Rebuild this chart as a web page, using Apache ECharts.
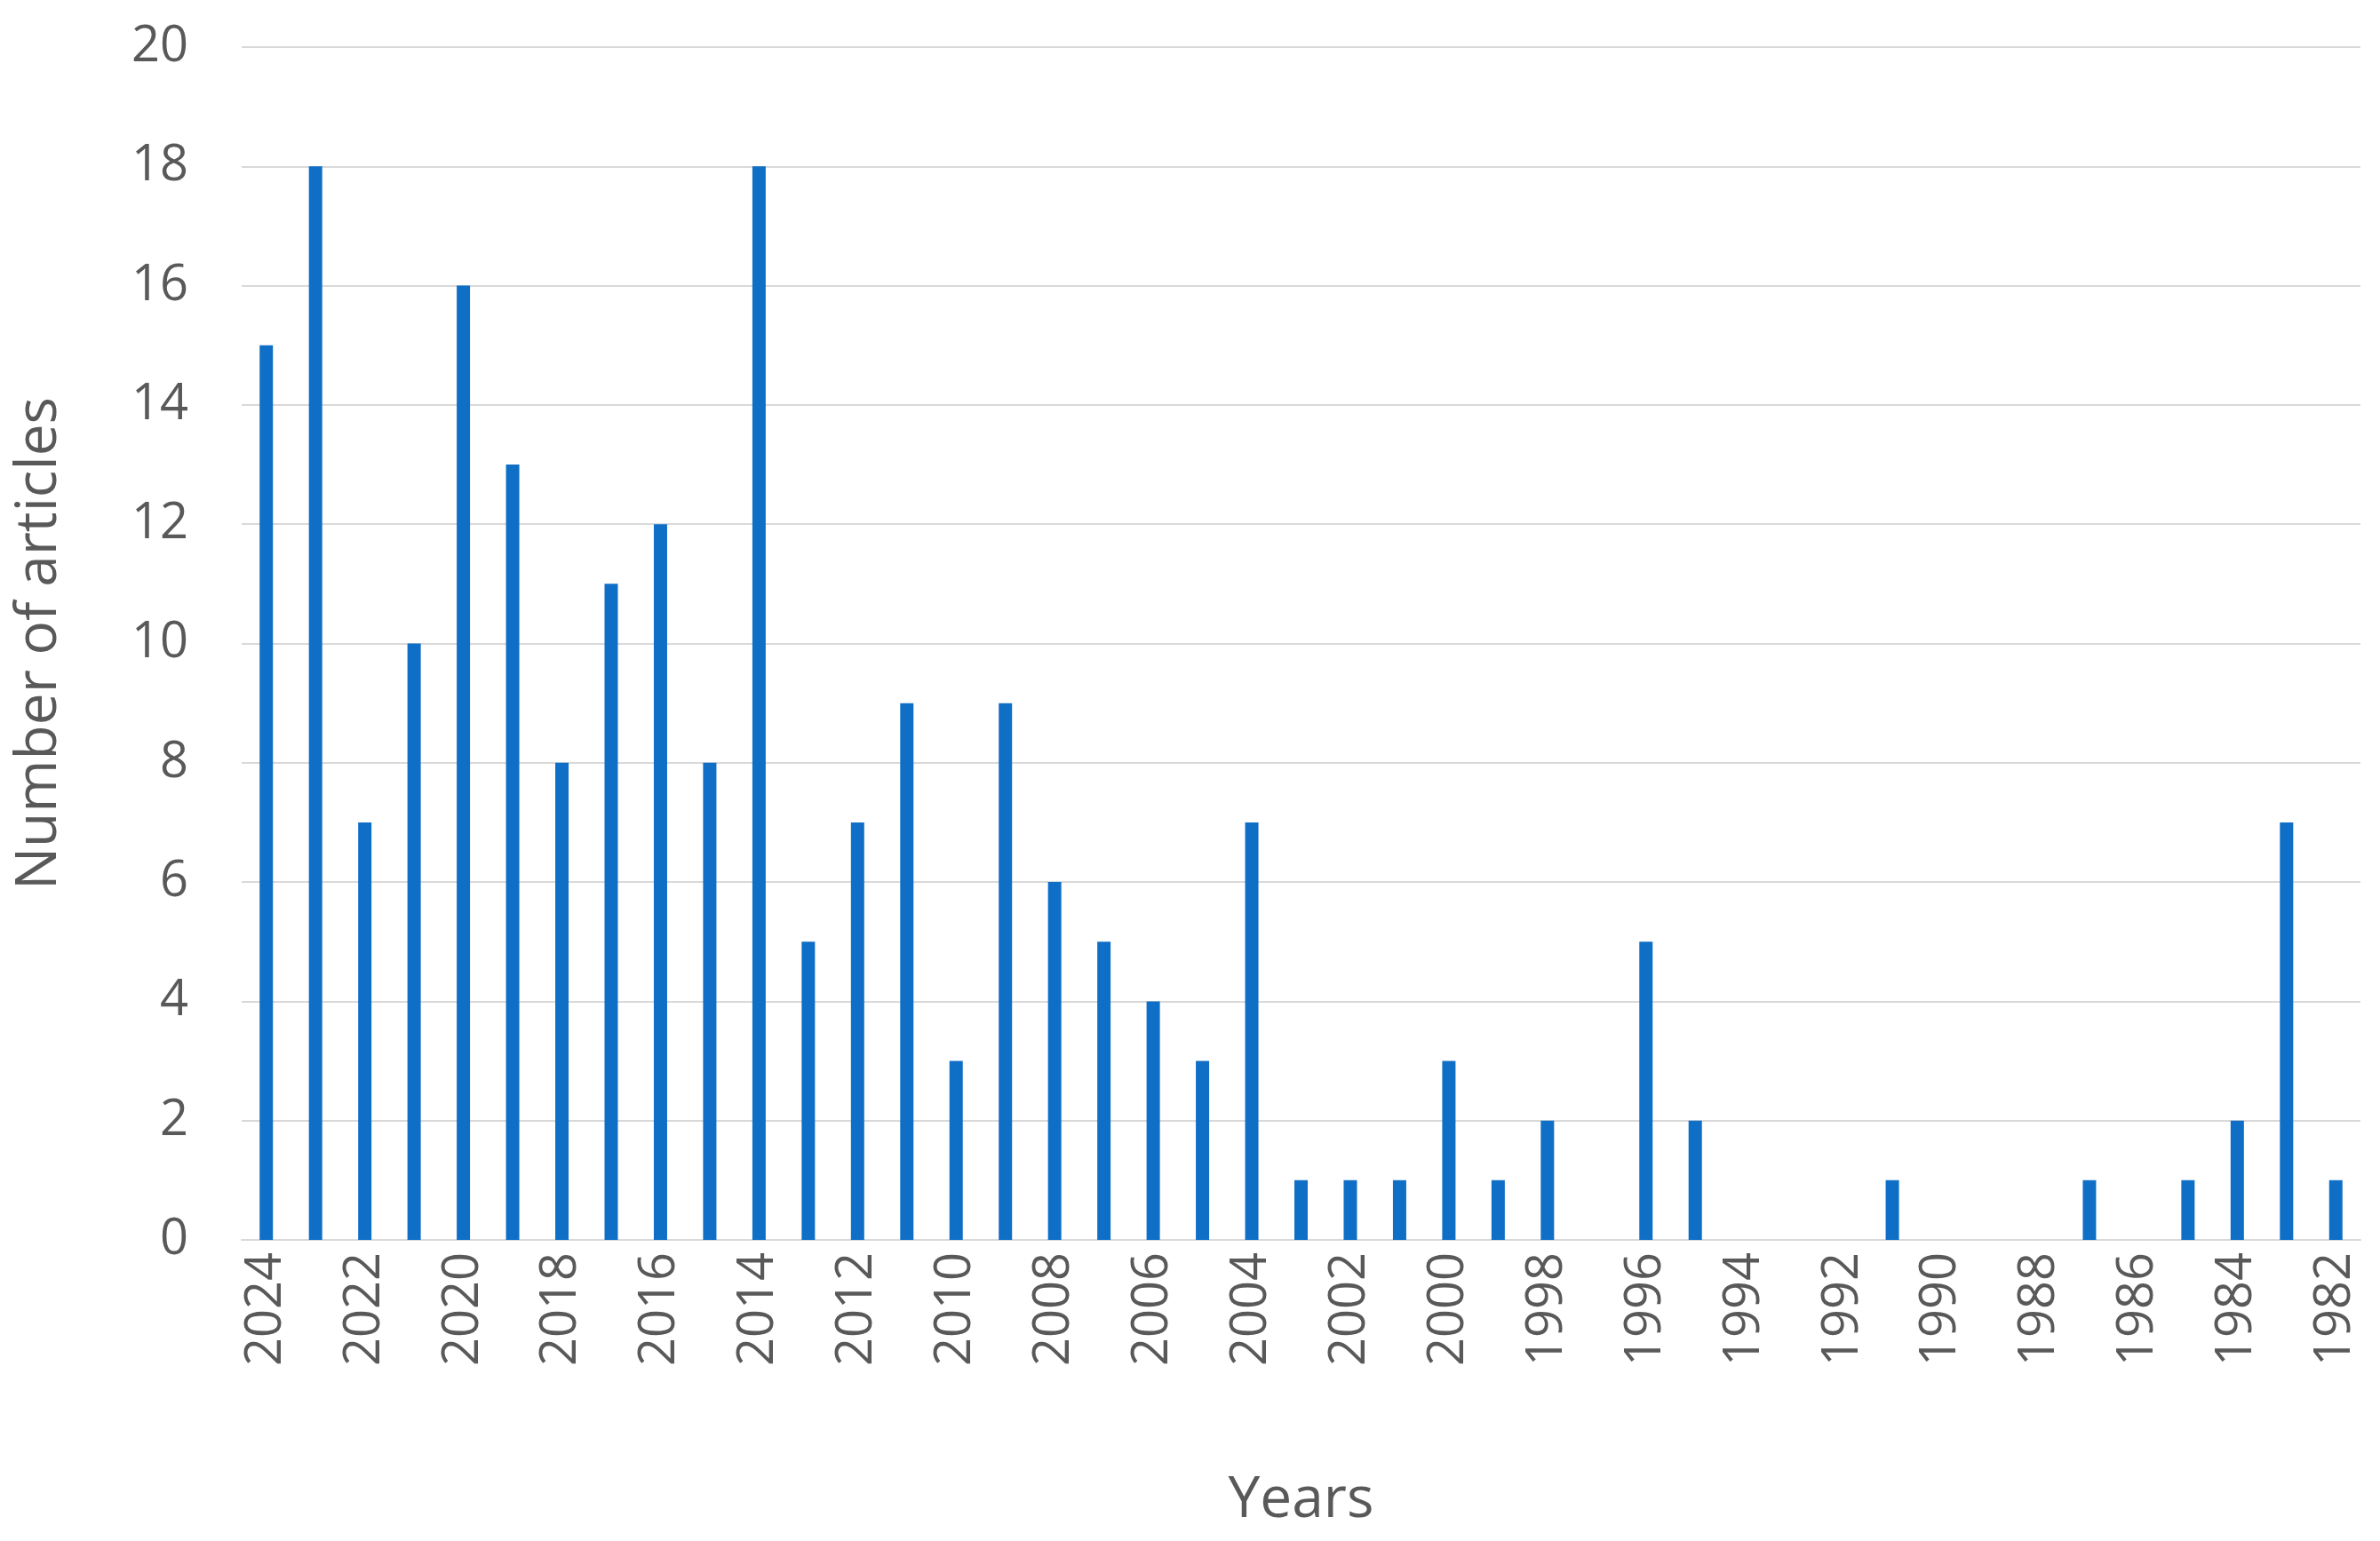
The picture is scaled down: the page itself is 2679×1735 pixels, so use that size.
<!DOCTYPE html>
<html>
<head>
<meta charset="utf-8">
<script src="https://cdn.jsdelivr.net/npm/echarts@6/dist/echarts.min.js"></script>
<style>html,body{margin:0;padding:0;background:#fff}#main{width:2679px;height:1735px}</style>
</head>
<body>
<div id="main"></div>
<script>
// years, newest first
var years = [];
for (var y = 2024; y >= 1982; y--) years.push(String(y));
var articles = [15, 18, 7, 10, 16, 13, 8, 11, 12, 8, 18, 5, 7, 9, 3, 9, 6, 5, 4, 3, 7, 1, 1, 1, 3, 1, 2, 0, 5, 2, 0, 0, 0, 1, 0, 0, 0, 1, 0, 1, 2, 7, 1];

var chart = echarts.init(document.getElementById('main'));
var font = 'Open Sans, Liberation Sans, sans-serif';
chart.setOption({
	animation: false,
	grid: { left: 272, right: 22, top: 53, bottom: 339 },
	xAxis: {
		type: 'category',
		data: years,
		name: 'Years',
		nameLocation: 'middle',
		nameGap: 262,
		nameTextStyle: { fontSize: 64, color: '#595959', fontFamily: font },
		axisLine: { lineStyle: { color: '#d9d9d9', width: 2 } },
		axisTick: { show: false },
		axisLabel: { interval: 1, rotate: 90, fontSize: 56, color: '#595959', fontFamily: font, margin: 14 }
	},
	yAxis: {
		type: 'value',
		min: 0, max: 20, interval: 2,
		name: 'Number of articles',
		nameLocation: 'middle',
		nameGap: 195,
		nameTextStyle: { fontSize: 64, color: '#595959', fontFamily: font },
		axisLine: { show: false },
		axisTick: { show: false },
		axisLabel: { fontSize: 56, color: '#595959', fontFamily: font, margin: 60 },
		splitLine: { lineStyle: { color: '#d9d9d9', width: 2 } }
	},
	series: [{
		type: 'bar',
		data: articles,
		barWidth: 15,
		itemStyle: { color: '#0f6fc6' }
	}]
});
</script>
</body>
</html>
